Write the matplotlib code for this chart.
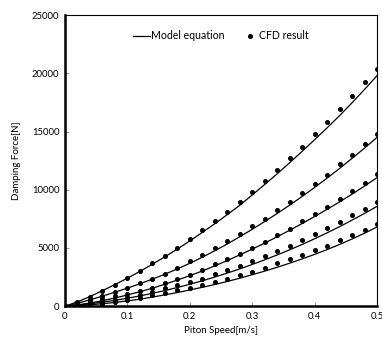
import matplotlib.pyplot as plt

# -------- DADOS --------
speed = [0.00, 0.02, 0.04, 0.06, 0.08, 0.10, 0.12, 0.14, 0.16, 0.18, 0.20, 0.22, 0.24,
         0.26, 0.28, 0.30, 0.32, 0.34, 0.36, 0.38, 0.40, 0.42, 0.44, 0.46, 0.48, 0.50]

# CFD result (kN)
cfd1 = [0, 0.37, 0.82, 1.34, 1.86, 2.43, 3.02, 3.67, 4.31, 5.00, 5.74, 6.50, 7.30,
        8.10, 8.95, 9.84, 10.76, 11.70, 12.70, 13.70, 14.75, 15.80, 16.90, 18.07, 19.27, 20.40]
cfd2 = [0, 0.25, 0.55, 0.90, 1.25, 1.60, 1.95, 2.35, 2.80, 3.32, 3.84, 4.38, 4.96,
        5.56, 6.21, 6.85, 7.50, 8.25, 8.93, 9.73, 10.50, 11.30, 12.17, 13.00, 13.90, 14.80]
cfd3 = [0, 0.18, 0.40, 0.62, 0.85, 1.08, 1.33, 1.60, 1.95, 2.32, 2.69, 3.09, 3.58,
        4.01, 4.49, 4.98, 5.52, 6.07, 6.64, 7.28, 7.90, 8.53, 9.19, 9.90, 10.60, 11.37]
cfd4 = [0, 0.10, 0.22, 0.38, 0.55, 0.75, 0.97, 1.23, 1.52, 1.78, 2.06, 2.35, 2.72,
        3.09, 3.44, 3.87, 4.27, 4.72, 5.18, 5.67, 6.16, 6.70, 7.24, 7.79, 8.33, 8.93]
cfd5 = [0, 0.05, 0.12, 0.22, 0.34, 0.52, 0.72, 0.93, 1.14, 1.37, 1.60, 1.83, 2.06,
        2.35, 2.64, 2.95, 3.29, 3.67, 4.01, 4.38, 4.81, 5.21, 5.67, 6.07, 6.56, 7.02]

# Model equation (kN)
model1 = [0, 0.37, 0.82, 1.33, 1.85, 2.40, 2.98, 3.60, 4.24, 4.90, 5.60, 6.33, 7.08,
          7.86, 8.66, 9.55, 10.45, 11.37, 12.32, 13.30, 14.30, 15.32, 16.37, 17.47, 18.62, 19.80]
model2 = [0, 0.25, 0.54, 0.86, 1.20, 1.55, 1.92, 2.32, 2.74, 3.20, 3.68, 4.20, 4.76,
          5.34, 5.96, 6.60, 7.27, 7.96, 8.68, 9.42, 10.20, 11.00, 11.83, 12.70, 13.58, 14.50]
model3 = [0, 0.11, 0.27, 0.47, 0.70, 0.96, 1.24, 1.54, 1.88, 2.24, 2.62, 3.02, 3.46,
          3.92, 4.40, 4.90, 5.42, 5.96, 6.52, 7.10, 7.70, 8.32, 8.96, 9.62, 10.32, 11.04]
model4 = [0, 0.09, 0.20, 0.34, 0.50, 0.68, 0.88, 1.10, 1.34, 1.60, 1.88, 2.18, 2.50,
          2.84, 3.20, 3.58, 3.98, 4.40, 4.84, 5.30, 5.79, 6.30, 6.83, 7.39, 7.97, 8.57]
model5 = [0, 0.05, 0.12, 0.21, 0.32, 0.45, 0.60, 0.78, 0.97, 1.17, 1.39, 1.62, 1.86,
          2.12, 2.40, 2.70, 3.01, 3.34, 3.69, 4.06, 4.45, 4.86, 5.30, 5.77, 6.27, 6.80]

cfd = [cfd1, cfd2, cfd3, cfd4, cfd5]
model = [model1, model2, model3, model4, model5]

yticks = [0, 5000, 10000, 15000, 20000, 25000]
xticks = [0, 0.1, 0.2, 0.3, 0.4, 0.5]

# -------- GRÁFICO --------
plt.rcParams['font.family'] = ['Lato', 'DejaVu Sans']

fig = plt.figure(figsize=(3.82, 3.44), dpi=100)
ax = fig.add_axes([0.170, 0.110, 0.817, 0.846])

for i in range(5):
    ax.plot(speed, [v * 1000 for v in model[i]], color="black", lw=0.9,
            label="Model equation" if i == 0 else None)
    ax.plot(speed, [v * 1000 for v in cfd[i]], "o", color="black", ms=2.6,
            label="CFD result" if i == 0 else None)

ax.set_xlim(0, 0.5)
ax.set_ylim(0, 25000)
ax.set_xticks(xticks)
ax.set_xticklabels(["0", "0.1", "0.2", "0.3", "0.4", "0.5"])
ax.set_yticks(yticks)
ax.tick_params(direction="in", length=3, width=0.6, color="#888888",
               labelsize=6.8, pad=4)
ax.set_xlabel("Piton Speed[m/s]", fontsize=7, labelpad=4)
ax.set_ylabel("Damping Force[N]", fontsize=7, labelpad=8)

ax.spines["left"].set_linewidth(1.8)
ax.spines["bottom"].set_linewidth(1.8)
ax.spines["top"].set_linewidth(0.8)
ax.spines["right"].set_linewidth(0.8)

ax.legend(loc="upper center", bbox_to_anchor=(0.5, 0.98), ncol=2, frameon=False,
          fontsize=7.6, handlelength=1.6, handletextpad=0.1, columnspacing=1.6)

fig.savefig("out.png", dpi=100)
